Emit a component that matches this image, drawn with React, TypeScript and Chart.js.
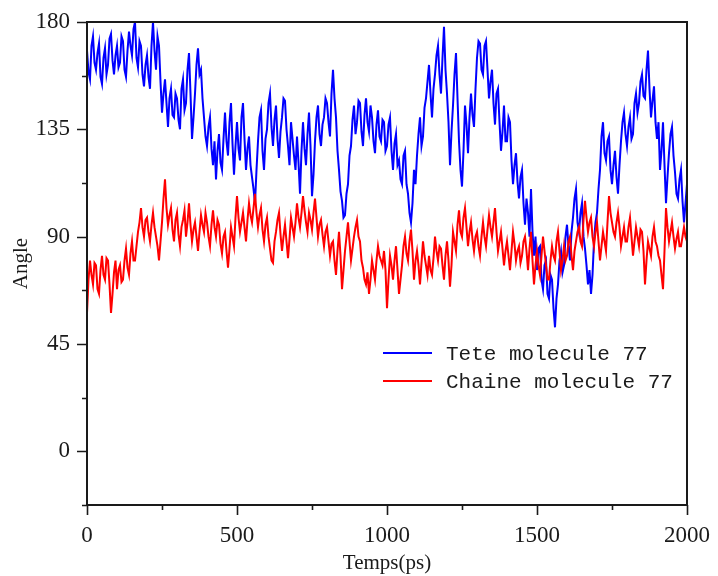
import React, { useEffect, useRef } from "react";
import { Chart, registerables } from "chart.js";

Chart.register(...registerables);

// Simulation time step (ps) between samples
const TIME_STEP = 5;

// Angle of the head group (blue), one value every 5 ps from 0 to 2000 ps
const teteAngle = [
  168, 159, 156, 170, 174, 163, 160, 167, 171, 157, 154, 165, 169, 158, 162, 173, 175, 164, 158, 166,
  170, 161, 163, 174, 172, 160, 157, 168, 176, 170, 166, 177, 180, 165, 161, 172, 170, 158, 153, 162,
  166, 157, 152, 170, 180, 168, 160, 174, 170, 155, 142, 150, 156, 146, 136, 148, 152, 141, 140, 150,
  148, 139, 135, 152, 156, 143, 146, 160, 167, 150, 131, 140, 150, 162, 169, 158, 160, 148, 140, 132,
  128, 136, 140, 127, 120, 130, 114, 126, 133, 121, 118, 131, 142, 130, 124, 138, 146, 129, 116, 128,
  138, 127, 122, 140, 146, 131, 118, 127, 132, 120, 115, 110, 104, 118, 130, 140, 143, 126, 118, 131,
  135, 146, 150, 136, 128, 139, 145, 131, 123, 134, 140, 148, 147, 135, 128, 120, 138, 131, 124, 118,
  132, 121, 108, 126, 138, 127, 120, 133, 142, 128, 107, 116, 130, 140, 145, 133, 128, 137, 140, 148,
  146, 138, 132, 150, 160, 148, 140, 126, 118, 109, 105, 98, 99, 108, 112, 124, 128, 139, 145, 133,
  138, 147, 146, 134, 128, 141, 148, 138, 134, 145, 140, 130, 125, 137, 143, 132, 130, 139, 138, 126,
  128, 137, 140, 126, 118, 129, 133, 120, 122, 114, 112, 124, 126, 112, 108, 100, 96, 104, 118, 112,
  124, 133, 140, 128, 132, 144, 148, 155, 162, 150, 140, 152, 158, 166, 170, 158, 150, 165, 178, 160,
  150, 138, 120, 134, 145, 158, 167, 148, 130, 118, 111, 126, 145, 137, 125, 140, 150, 141, 136, 152,
  165, 172, 171, 160, 158, 170, 172, 160, 148, 155, 160, 146, 137, 150, 152, 138, 126, 134, 145, 130,
  130, 140, 138, 122, 112, 120, 125, 113, 106, 115, 118, 104, 95, 106, 100, 90, 110, 92, 82, 90,
  76, 85, 86, 72, 68, 78, 80, 66, 64, 74, 72, 60, 52, 64, 70, 80, 84, 75, 78, 90,
  95, 86, 80, 92, 98, 106, 110, 96, 92, 100, 104, 90, 85, 78, 70, 76, 66, 74, 88, 96,
  100, 110, 118, 132, 138, 125, 122, 130, 132, 118, 112, 120, 126, 115, 108, 120, 130, 138, 142, 133,
  128, 136, 140, 131, 133, 146, 150, 142, 146, 155, 158, 149, 148, 160, 168, 152, 140, 147, 153, 138,
  131, 138, 118, 126, 138, 120, 104, 115, 125, 133, 136, 124, 117, 108, 106, 114, 118, 105, 96, 104,
  112,
];

// Angle of the chain (red), one value every 5 ps from 0 to 2000 ps
const chaineAngle = [
  58, 72, 80, 74, 70, 79, 78, 68, 66, 76, 82, 74, 72, 81, 80, 70, 58, 66, 75, 80,
  68, 76, 78, 71, 72, 80, 85, 77, 74, 83, 88, 80, 80, 86, 92, 96, 102, 94, 90, 97,
  98, 92, 88, 95, 100, 94, 90, 86, 80, 88, 96, 106, 114, 102, 95, 99, 102, 93, 88, 97,
  100, 91, 86, 94, 97, 101, 90, 96, 104, 95, 88, 93, 96, 90, 84, 92, 99, 95, 92, 100,
  96, 90, 86, 95, 101, 94, 90, 97, 95, 87, 83, 90, 92, 84, 77, 85, 94, 90, 86, 98,
  107, 98, 92, 96, 100, 94, 88, 97, 104, 99, 96, 102, 108, 100, 94, 99, 102, 93, 88, 95,
  98, 90, 85, 80, 79, 88, 92, 97, 100, 91, 84, 90, 95, 88, 81, 89, 98, 94, 90, 96,
  104, 98, 94, 100, 107, 101, 96, 92, 100, 97, 93, 100, 106, 98, 90, 95, 97, 91, 86, 92,
  94, 88, 82, 87, 88, 80, 74, 84, 92, 82, 68, 76, 84, 90, 96, 88, 80, 85, 90, 94,
  97, 90, 88, 80, 77, 72, 70, 75, 66, 72, 80, 76, 72, 80, 86, 82, 80, 78, 84, 76,
  60, 72, 82, 78, 72, 80, 86, 76, 66, 72, 78, 86, 90, 83, 80, 88, 93, 84, 72, 80,
  84, 78, 70, 79, 88, 82, 78, 74, 82, 76, 74, 81, 90, 84, 80, 86, 85, 78, 72, 82,
  88, 80, 69, 78, 92, 88, 84, 95, 101, 92, 90, 98, 102, 94, 86, 92, 96, 89, 84, 90,
  92, 86, 82, 90, 96, 90, 86, 93, 99, 94, 90, 96, 102, 92, 84, 88, 92, 85, 78, 84,
  88, 82, 76, 84, 92, 87, 80, 84, 86, 79, 82, 88, 90, 84, 76, 85, 92, 80, 70, 78,
  84, 78, 74, 82, 90, 84, 78, 72, 72, 80, 86, 82, 80, 88, 92, 84, 76, 80, 86, 80,
  82, 88, 90, 82, 76, 84, 88, 92, 94, 88, 86, 97, 105, 98, 92, 96, 98, 90, 86, 92,
  96, 88, 80, 86, 92, 88, 84, 96, 107, 100, 96, 92, 90, 96, 100, 94, 86, 90, 94, 88,
  88, 94, 98, 90, 82, 88, 94, 90, 86, 93, 92, 84, 70, 80, 88, 85, 82, 90, 94, 88,
  86, 82, 80, 74, 68, 84, 102, 94, 88, 92, 96, 90, 85, 89, 92, 86, 86, 90, 94, 90,
  88,
];

const times = teteAngle.map((_, i) => i * TIME_STEP);

const xTicks = [0, 500, 1000, 1500, 2000];
const yTicks = [0, 45, 90, 135, 180];
const X_MIN = 0;
const X_MAX = 2000;
const Y_MIN = -22.5;
const Y_MAX = 180;

const seriesLabels = ["Tete molecule 77", "Chaine molecule 77"];
const seriesColors = ["#0000ff", "#ff0000"];
const xTitle = "Temps(ps)";
const yTitle = "Angle";

const INK = "#1a1a1a";
const SERIF = "'Liberation Serif', 'DejaVu Serif', serif";
const MONO = "'Liberation Mono', 'DejaVu Sans Mono', monospace";

const framePlugin = {
  id: "frameAndLegend",
  afterDraw(chart: any) {
    const { ctx, chartArea: a, scales } = chart;
    const xs = scales.x;
    const ys = scales.y;
    ctx.save();
    ctx.strokeStyle = INK;
    ctx.lineWidth = 2;
    ctx.strokeRect(a.left, a.top, a.right - a.left, a.bottom - a.top);

    ctx.lineWidth = 1.6;
    ctx.beginPath();
    const xAll: number[] = [];
    for (let i = 0; i < xTicks.length; i++) {
      xAll.push(xTicks[i]);
      if (i < xTicks.length - 1) xAll.push((xTicks[i] + xTicks[i + 1]) / 2);
    }
    xAll.forEach((v) => {
      const px = Math.round(xs.getPixelForValue(v)) + 0.5;
      const len = xTicks.includes(v) ? 10 : 5;
      ctx.moveTo(px, a.bottom);
      ctx.lineTo(px, a.bottom + len);
    });
    const yAll: number[] = [Y_MIN];
    for (let i = 0; i < yTicks.length; i++) {
      yAll.push(yTicks[i]);
      if (i < yTicks.length - 1) yAll.push((yTicks[i] + yTicks[i + 1]) / 2);
    }
    yAll.forEach((v) => {
      const py = Math.round(ys.getPixelForValue(v)) + 0.5;
      const len = yTicks.includes(v) ? 10 : 5;
      ctx.moveTo(a.left, py);
      ctx.lineTo(a.left - len, py);
    });
    ctx.stroke();

    const datasets = chart.data.datasets;
    ctx.font = `21px ${MONO}`;
    ctx.textBaseline = "middle";
    ctx.textAlign = "left";
    datasets.forEach((ds: any, i: number) => {
      const ly = a.top + 331 + i * 28;
      ctx.strokeStyle = ds.borderColor;
      ctx.lineWidth = 2;
      ctx.beginPath();
      ctx.moveTo(a.left + 296, ly);
      ctx.lineTo(a.left + 345, ly);
      ctx.stroke();
      ctx.fillStyle = INK;
      ctx.fillText(ds.label, a.left + 359, ly + 1);
    });
    ctx.restore();
  },
};

const zeroPad = (s: any) => {
  s.paddingTop = 0;
  s.paddingBottom = 0;
  s.paddingLeft = 0;
  s.paddingRight = 0;
};

export default function App() {
  const canvasRef = useRef<HTMLCanvasElement | null>(null);

  useEffect(() => {
    const canvas = canvasRef.current;
    if (!canvas) return;
    const chart = new Chart(canvas, {
      type: "line",
      data: {
        labels: times,
        datasets: [
          {
            label: seriesLabels[0],
            data: times.map((t, i) => ({ x: t, y: teteAngle[i] })),
            borderColor: seriesColors[0],
            backgroundColor: seriesColors[0],
            borderWidth: 2,
            pointRadius: 0,
            tension: 0,
            order: 2,
          },
          {
            label: seriesLabels[1],
            data: times.map((t, i) => ({ x: t, y: chaineAngle[i] })),
            borderColor: seriesColors[1],
            backgroundColor: seriesColors[1],
            borderWidth: 2,
            pointRadius: 0,
            tension: 0,
            order: 1,
          },
        ],
      },
      options: {
        responsive: false,
        animation: false,
        devicePixelRatio: 1,
        layout: { padding: { top: 22, right: 31, left: 0, bottom: 0 } },
        plugins: {
          legend: { display: false },
          tooltip: { enabled: false },
        },
        scales: {
          x: {
            type: "linear",
            min: X_MIN,
            max: X_MAX,
            grid: { display: false },
            border: { display: false },
            afterBuildTicks: (s: any) => {
              s.ticks = xTicks.map((v) => ({ value: v }));
            },
            afterFit: (s: any) => {
              s.height = 71;
              zeroPad(s);
            },
            ticks: {
              autoSkip: false,
              maxRotation: 0,
              padding: 9,
              color: INK,
              font: { family: SERIF, size: 23 },
              callback: (v: any) => String(v),
            },
            title: {
              display: true,
              text: xTitle,
              color: INK,
              font: { family: SERIF, size: 21 },
              padding: { top: 0, bottom: 0 },
            },
          },
          y: {
            type: "linear",
            min: Y_MIN,
            max: Y_MAX,
            grid: { display: false },
            border: { display: false },
            afterBuildTicks: (s: any) => {
              s.ticks = yTicks.map((v) => ({ value: v }));
            },
            afterFit: (s: any) => {
              s.width = 87;
              zeroPad(s);
            },
            ticks: {
              autoSkip: false,
              padding: 9,
              color: INK,
              font: { family: SERIF, size: 23 },
              callback: (v: any) => String(v),
            },
            title: {
              display: true,
              text: yTitle,
              color: INK,
              font: { family: SERIF, size: 21 },
              padding: { top: 9, bottom: 0 },
            },
          },
        },
      },
      plugins: [framePlugin],
    });
    return () => chart.destroy();
  }, []);

  return (
    <div style={{ position: "fixed", left: 0, top: 0, width: 718, height: 576, background: "#fff" }}>
      <canvas ref={canvasRef} width={718} height={576} style={{ display: "block" }} />
    </div>
  );
}
